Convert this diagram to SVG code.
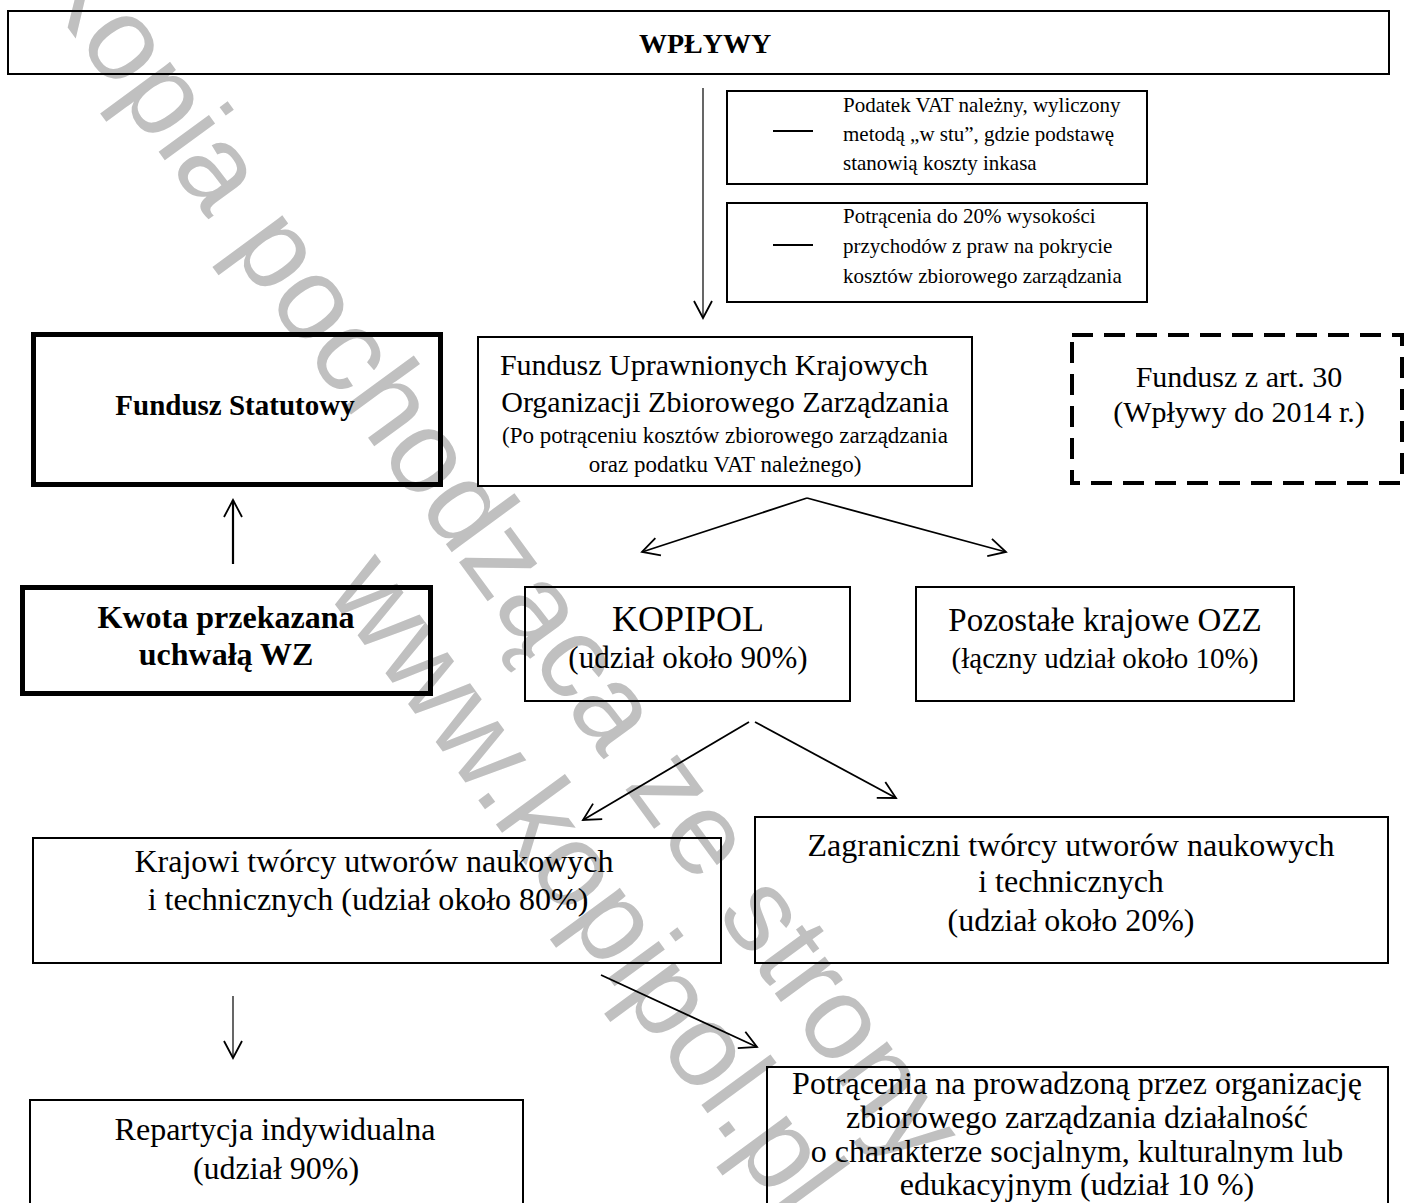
<svg xmlns="http://www.w3.org/2000/svg" width="1406" height="1203" viewBox="0 0 1406 1203">
<style>
.t{font-family:"Liberation Serif","Times New Roman",serif;fill:#000;text-anchor:middle}
.l{text-anchor:start}
.b{font-weight:bold}
.box{fill:none;stroke:#000;stroke-width:2}
.thick{fill:none;stroke:#000;stroke-width:5}
.dash{fill:none;stroke:#000;stroke-width:4;stroke-dasharray:21 11}
.con line{stroke:#000;stroke-width:1.8;marker-end:url(#ah)}
.wm{font-family:"Liberation Sans",Arial,sans-serif;font-size:118px;fill:#c0c0c0}
</style>
<defs>
<marker id="ah" markerUnits="userSpaceOnUse" viewBox="-20 -12 24 24" markerWidth="24" markerHeight="24" refX="0" refY="0" orient="auto" overflow="visible">
<path d="M-17,-9 L0,0 L-17,9" fill="none" stroke="#000" stroke-width="1.8"/>
</marker>
</defs>
<rect width="1406" height="1203" fill="#fff"/>
<g id="watermark">
<text class="wm" transform="translate(30,-24) rotate(53.8)"><tspan x="0" y="0">Kopia pochodząca ze strony</tspan><tspan x="670" y="125">www.kopipol.pl</tspan></text>
</g>
<g id="wplywy">
<rect class="box" x="8" y="11" width="1381" height="63"/>
<text class="t b" x="705" y="53" font-size="28">WPŁYWY</text>
</g>
<g id="vat">
<rect class="box" x="727" y="91" width="420" height="93"/>
<line x1="773" y1="131" x2="813" y2="131" stroke="#000" stroke-width="2"/>
<text class="t l" x="843" font-size="21"><tspan x="843" y="112">Podatek VAT należny, wyliczony</tspan><tspan x="843" y="141">metodą  „w stu”, gdzie podstawę</tspan><tspan x="843" y="170">stanowią koszty inkasa</tspan></text>
</g>
<g id="potracenia20">
<rect class="box" x="727" y="203" width="420" height="99"/>
<line x1="773" y1="245" x2="813" y2="245" stroke="#000" stroke-width="2"/>
<text class="t l" font-size="21"><tspan x="843" y="223">Potrącenia do 20% wysokości</tspan><tspan x="843" y="253">przychodów z praw na pokrycie</tspan><tspan x="843" y="283">kosztów zbiorowego zarządzania</tspan></text>
</g>
<g id="fundusz-statutowy">
<rect class="thick" x="33.5" y="334.5" width="407" height="150"/>
<text class="t b" x="235" y="415" font-size="29">Fundusz Statutowy</text>
</g>
<g id="fundusz-uprawnionych">
<rect class="box" x="478" y="337" width="494" height="149"/>
<text class="t" font-size="30"><tspan x="714" y="375">Fundusz Uprawnionych Krajowych</tspan><tspan x="725" y="412">Organizacji Zbiorowego Zarządzania</tspan></text>
<text class="t" font-size="23"><tspan x="725" y="443">(Po potrąceniu kosztów zbiorowego zarządzania</tspan><tspan x="725" y="472">oraz podatku VAT należnego)</tspan></text>
</g>
<g id="fundusz-art30">
<rect class="dash" x="1072" y="335" width="330" height="148"/>
<text class="t" font-size="30"><tspan x="1239" y="387">Fundusz z art. 30</tspan><tspan x="1239" y="422">(Wpływy do 2014 r.)</tspan></text>
</g>
<g id="kwota">
<rect class="thick" x="22.5" y="587.5" width="408" height="106"/>
<text class="t b" font-size="32"><tspan x="226" y="628">Kwota przekazana</tspan><tspan x="226" y="665">uchwałą WZ</tspan></text>
</g>
<g id="kopipol">
<rect class="box" x="525" y="587" width="325" height="114"/>
<text class="t" x="688" y="631" font-size="36">KOPIPOL</text>
<text class="t" x="688" y="668" font-size="31">(udział około 90%)</text>
</g>
<g id="pozostale">
<rect class="box" x="916" y="587" width="378" height="114"/>
<text class="t" x="1105" y="631" font-size="33">Pozostałe krajowe OZZ</text>
<text class="t" x="1105" y="668" font-size="29">(łączny udział około 10%)</text>
</g>
<g id="zagraniczni">
<rect class="box" x="755" y="817" width="633" height="146"/>
<text class="t" font-size="32"><tspan x="1071" y="856">Zagraniczni twórcy utworów naukowych</tspan><tspan x="1071" y="892">i technicznych</tspan><tspan x="1071" y="931">(udział około 20%)</tspan></text>
</g>
<g id="krajowi">
<rect class="box" x="33" y="838" width="688" height="125"/>
<text class="t" font-size="32"><tspan x="374" y="872">Krajowi twórcy utworów naukowych</tspan><tspan x="368" y="910">i technicznych (udział około 80%)</tspan></text>
</g>
<g id="repartycja">
<rect class="box" x="30" y="1100" width="493" height="120"/>
<text class="t" font-size="32"><tspan x="275" y="1140">Repartycja indywidualna</tspan><tspan x="276" y="1179">(udział 90%)</tspan></text>
</g>
<g id="potracenia10">
<rect class="box" x="767" y="1067" width="621" height="160"/>
<text class="t" font-size="32"><tspan x="1077" y="1094">Potrącenia na prowadzoną przez organizację</tspan><tspan x="1077" y="1128">zbiorowego zarządzania działalność</tspan><tspan x="1077" y="1162">o charakterze socjalnym, kulturalnym lub</tspan><tspan x="1077" y="1195">edukacyjnym (udział 10 %)</tspan></text>
</g>
<g id="connectors" class="con">
<line x1="703" y1="88" x2="703" y2="318" style="stroke-width:1.2"/>
<line x1="233" y1="564" x2="233" y2="500" style="stroke-width:2.2"/>
<line x1="807" y1="498" x2="642" y2="552"/>
<line x1="807" y1="498" x2="1006" y2="552"/>
<line x1="749" y1="722" x2="583" y2="820"/>
<line x1="755" y1="722" x2="896" y2="798"/>
<line x1="233" y1="996" x2="233" y2="1058" style="stroke-width:1.2"/>
<line x1="601" y1="975" x2="757" y2="1047"/>
</g>
</svg>
